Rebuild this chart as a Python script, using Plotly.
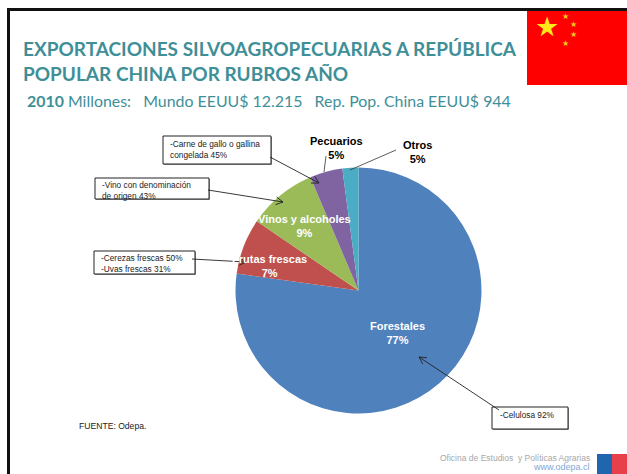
import math
import plotly.graph_objects as go

W, H = 627, 474
categories = ["Forestales", "Frutas frescas", "Vinos y alcoholes", "Pecuarios", "Otros"]
slice_values = [77.2, 7.3, 9.1, 4.3, 2.1]
printed_pct = ["77%", "7%", "9%", "5%", "5%"]
colors = ["#4F81BD", "#C0504D", "#9BBB59", "#8064A2", "#4BACC6"]

title_lines = ["EXPORTACIONES SILVOAGROPECUARIAS A REPÚBLICA", "POPULAR CHINA POR RUBROS AÑO"]
subtitle = "<b>2010</b> Millones:   Mundo EEUU$ 12.215   Rep. Pop. China EEUU$ 944"
source = "FUENTE: Odepa."
footer = ["Oficina de Estudios  y Políticas Agrarias", "www.odepa.cl"]
TEAL = "#3F8F98"

def px(x): return x / W
def py(y): return 1 - y / H

cx, cy, r = 358.5, 290.5, 123
fig = go.Figure(go.Pie(
    labels=categories, values=slice_values, sort=False, direction="clockwise", rotation=0,
    marker=dict(colors=colors, line=dict(width=0)), textinfo="none", hoverinfo="label+percent",
    domain=dict(x=[px(cx - r), px(cx + r)], y=[py(cy + r), py(cy - r)]), showlegend=False,
))

shapes, ann = [], []

def rect(x0, y0, x1, y1, **kw):
    shapes.append(dict(type="rect", xref="paper", yref="paper", x0=px(x0), x1=px(x1),
                       y0=py(y1), y1=py(y0), **kw))

def line(x0, y0, x1, y1, color="#222", width=0.9):
    shapes.append(dict(type="line", xref="paper", yref="paper", x0=px(x0), y0=py(y0),
                       x1=px(x1), y1=py(y1), line=dict(color=color, width=width)))

def arrow(x0, y0, x1, y1, head=8):
    line(x0, y0, x1, y1)
    a = math.atan2(y0 - y1, x0 - x1)
    for d in (-0.5, 0.5):
        line(x1, y1, x1 + head * math.cos(a + d), y1 + head * math.sin(a + d))

def text(x, y, s, size, color="#000", font="Liberation Sans", anchor="left", va="middle"):
    ann.append(dict(x=px(x), y=py(y), xref="paper", yref="paper", text=s, showarrow=False,
                    xanchor=anchor, yanchor=va, align=anchor,
                    font=dict(family=font, size=size, color=color)))

# slide frame
rect(8.5, 9.5, 640, 490, line=dict(color="#111", width=3), fillcolor="rgba(0,0,0,0)")
# flag
rect(527, 11, 627, 85, fillcolor="#FE0000", line=dict(width=0))
text(547, 27, "★", 27, "#FFE81A", "DejaVu Sans", "center")
for sx, sy, ss in [(565, 16, 8), (573, 24, 8), (573, 35, 8), (565, 43, 8)]:
    text(sx, sy, "★", ss, "#F4C81A", "DejaVu Sans", "center")

# titles
text(21, 49, "<b>" + title_lines[0] + "</b>", 19, TEAL, "Lato")
text(21, 74, "<b>" + title_lines[1] + "</b>", 19, TEAL, "Lato")
text(25, 101, subtitle, 15.9, TEAL, "Lato")

# slice labels
for (x, y, i, c) in [(398, 333, 0, "white"), (269, 266, 1, "white"), (304, 226, 2, "white"),
                     (336, 148, 3, "black"), (417, 152, 4, "black")]:
    text(x, y, f"<b>{categories[i]}<br>{printed_pct[i]}</b>", 11, c, anchor="center")

# callout boxes
boxes = [
    (163, 136, 271, 164, "-Carne de gallo o gallina<br>congelada 45%", 168, 149),
    (95, 178, 209, 199, "-Vino con denominación<br>de origen 43%", 100, 190),
    (94, 251, 195, 274, "-Cerezas frescas 50%<br>-Uvas frescas 31%", 99, 263),
    (492, 407, 568, 429, "-Celulosa 92%", 498, 415),
]
for x0, y0, x1, y1, s, tx, ty in boxes:
    rect(x0 + 1, y0 + 1, x1 + 1, y1 + 1, fillcolor="#999", line=dict(width=0))
    rect(x0, y0, x1, y1, fillcolor="white", line=dict(color="#222", width=1))
    text(tx, ty, s, 8.3, "#222")

# arrows
for x0, y0, x1, y1 in [(270, 157, 319, 183), (208, 190, 283, 202),
                       (192, 259, 246, 262), (499, 410, 419, 357)]:
    arrow(x0, y0, x1, y1)
# leader lines
for x0, y0, x1, y1 in [(326, 156, 324, 172), (396, 150, 350, 170)]:
    line(x0, y0, x1, y1, "#333", 0.8)

text(77, 426, source, 8.6, "#222")
text(592, 458, footer[0], 8.5, "#A8A8A8", anchor="right")
text(592, 467, footer[1], 9, "#7FA6D8", anchor="right")
rect(597, 454, 612, 480, fillcolor="#1F66AE", line=dict(width=0))
rect(612, 454, 627, 480, fillcolor="#E8404A", line=dict(width=0))

fig.update_layout(width=W, height=H, margin=dict(l=0, r=0, t=0, b=0), autosize=False,
                  paper_bgcolor="white", plot_bgcolor="white", shapes=shapes, annotations=ann)
fig.write_html("out.html", config=dict(displayModeBar=False),
               post_script="document.body.style.margin='0';document.body.style.overflow='hidden';")
